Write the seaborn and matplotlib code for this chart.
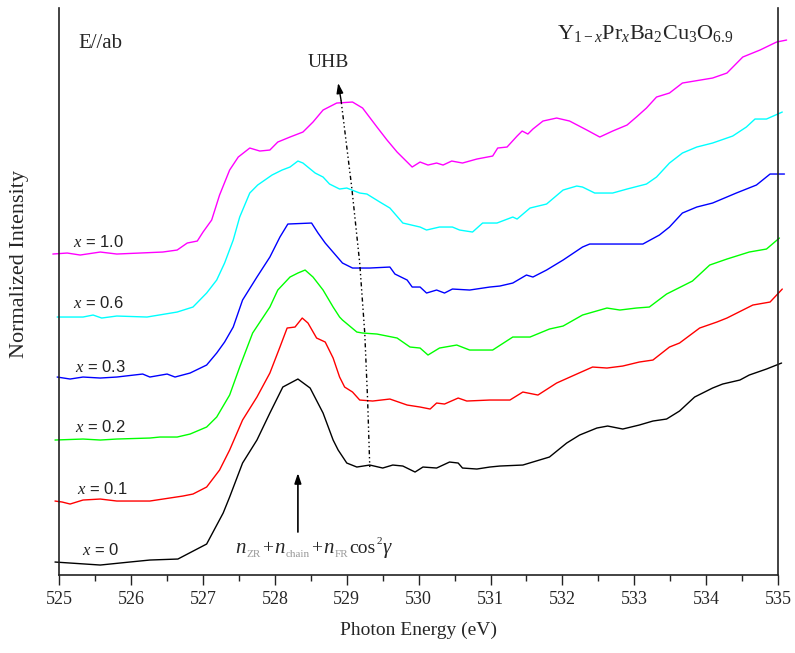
import numpy as np
import pandas as pd
import matplotlib
matplotlib.use("Agg")
import matplotlib.pyplot as plt
import matplotlib.transforms as mtransforms
import seaborn as sns

# O K-edge XAS spectra (E//ab), vertically offset, Y1-xPrxBa2Cu3O6.9
e_x0 = [524.94, 525.57, 525.98, 526.26, 526.65, 527.05, 527.28, 527.37, 527.55, 527.75, 527.93,
        528.11, 528.32, 528.49, 528.67, 528.81, 528.88, 529.00, 529.14, 529.32, 529.50, 529.64,
        529.78, 529.95, 530.06, 530.25, 530.43, 530.55, 530.61, 530.81, 530.99, 531.13, 531.45,
        531.82, 532.06, 532.24, 532.48, 532.63, 532.84, 533.07, 533.26, 533.45, 533.63, 533.84,
        534.09, 534.23, 534.47, 534.60, 534.84, 535.05]
i_x0 = [0.13, 0.10, 0.13, 0.15, 0.16, 0.31, 0.62, 0.78, 1.12, 1.35, 1.62,
        1.88, 1.96, 1.87, 1.62, 1.35, 1.25, 1.12, 1.08, 1.10, 1.07, 1.10,
        1.09, 1.03, 1.08, 1.07, 1.13, 1.12, 1.07, 1.06, 1.08, 1.09, 1.10,
        1.18, 1.32, 1.40, 1.47, 1.49, 1.46, 1.50, 1.54, 1.56, 1.64, 1.78,
        1.87, 1.91, 1.95, 2.00, 2.06, 2.12]

e_x01 = [524.94, 525.04, 525.15, 525.33, 525.57, 525.80, 526.26, 526.72, 526.86, 527.05, 527.23,
         527.37, 527.55, 527.75, 527.93, 528.07, 528.17, 528.28, 528.38, 528.46, 528.58, 528.70,
         528.81, 528.90, 528.97, 529.08, 529.18, 529.36, 529.60, 529.84, 530.02, 530.16, 530.25,
         530.36, 530.55, 530.67, 530.99, 531.27, 531.45, 531.66, 531.92, 532.20, 532.42, 532.62,
         532.84, 533.07, 533.26, 533.49, 533.63, 533.91, 534.15, 534.29, 534.65, 534.89, 535.06]
i_x01 = [0.74, 0.73, 0.71, 0.75, 0.76, 0.74, 0.74, 0.79, 0.81, 0.88, 1.05,
         1.25, 1.55, 1.78, 2.02, 2.28, 2.47, 2.48, 2.57, 2.52, 2.37, 2.33,
         2.17, 1.98, 1.88, 1.83, 1.75, 1.74, 1.76, 1.70, 1.68, 1.66, 1.72,
         1.71, 1.77, 1.74, 1.75, 1.75, 1.83, 1.80, 1.92, 2.01, 2.08, 2.07,
         2.09, 2.13, 2.15, 2.28, 2.32, 2.47, 2.53, 2.57, 2.70, 2.73, 2.86]

e_x02 = [524.94, 525.33, 525.57, 525.80, 526.26, 526.40, 526.64, 526.82, 527.05, 527.19, 527.37,
         527.51, 527.69, 527.93, 528.04, 528.21, 528.32, 528.42, 528.53, 528.67, 528.81, 528.90,
         528.94, 529.14, 529.22, 529.42, 529.70, 529.88, 530.02, 530.13, 530.29, 530.53, 530.71,
         531.03, 531.31, 531.55, 531.82, 532.01, 532.28, 532.62, 532.80, 533.03, 533.21, 533.45,
         533.81, 534.05, 534.29, 534.60, 534.84, 535.02]
i_x02 = [1.35, 1.36, 1.35, 1.36, 1.37, 1.38, 1.38, 1.41, 1.48, 1.58, 1.80,
         2.08, 2.42, 2.68, 2.85, 2.98, 3.02, 3.05, 2.98, 2.85, 2.68, 2.58,
         2.55, 2.43, 2.42, 2.41, 2.37, 2.28, 2.27, 2.20, 2.27, 2.30, 2.25,
         2.25, 2.38, 2.38, 2.46, 2.49, 2.60, 2.67, 2.65, 2.67, 2.68, 2.81,
         2.94, 3.10, 3.16, 3.23, 3.26, 3.37]

e_x03 = [524.97, 525.15, 525.33, 525.57, 525.80, 526.16, 526.26, 526.50, 526.61, 526.82, 527.05,
         527.19, 527.30, 527.42, 527.55, 527.75, 527.93, 528.07, 528.18, 528.51, 528.60, 528.70,
         528.76, 528.94, 529.08, 529.32, 529.60, 529.67, 529.84, 529.91, 530.02, 530.11, 530.25,
         530.36, 530.47, 530.71, 530.99, 531.13, 531.31, 531.50, 531.59, 531.78, 532.01, 532.28,
         532.38, 533.12, 533.35, 533.49, 533.67, 533.87, 534.09, 534.42, 534.70, 534.89, 535.09]
i_x03 = [1.98, 1.96, 1.98, 1.97, 1.98, 2.01, 1.98, 2.01, 1.98, 2.02, 2.10,
         2.22, 2.33, 2.48, 2.75, 2.98, 3.18, 3.38, 3.51, 3.52, 3.42, 3.32,
         3.27, 3.12, 3.07, 3.07, 3.08, 3.01, 2.95, 2.88, 2.88, 2.82, 2.85,
         2.82, 2.86, 2.85, 2.88, 2.89, 2.92, 3.00, 2.98, 3.05, 3.15, 3.28,
         3.31, 3.31, 3.40, 3.48, 3.62, 3.68, 3.72, 3.82, 3.90, 4.01, 4.01]

e_x06 = [524.97, 525.33, 525.47, 525.59, 525.80, 526.22, 526.64, 526.86, 527.05, 527.19, 527.30,
         527.42, 527.51, 527.65, 527.76, 527.96, 528.10, 528.21, 528.32, 528.39, 528.56, 528.67,
         528.76, 528.90, 529.00, 529.18, 529.28, 529.46, 529.60, 529.78, 530.02, 530.11, 530.29,
         530.47, 530.57, 530.75, 530.89, 531.09, 531.31, 531.37, 531.55, 531.78, 532.01, 532.20,
         532.28, 532.45, 532.70, 532.90, 533.17, 533.31, 533.49, 533.67, 533.87, 534.09, 534.37,
         534.56, 534.68, 534.84, 535.06]
i_x06 = [2.58, 2.58, 2.60, 2.57, 2.59, 2.58, 2.63, 2.68, 2.82, 2.95, 3.12,
         3.35, 3.58, 3.82, 3.90, 4.00, 4.05, 4.08, 4.14, 4.12, 4.02, 3.98,
         3.91, 3.86, 3.87, 3.82, 3.81, 3.73, 3.67, 3.52, 3.48, 3.45, 3.48,
         3.48, 3.45, 3.43, 3.52, 3.52, 3.58, 3.56, 3.67, 3.71, 3.85, 3.89,
         3.88, 3.82, 3.82, 3.86, 3.91, 3.98, 4.12, 4.22, 4.28, 4.32, 4.39,
         4.48, 4.56, 4.56, 4.63]

e_x10 = [524.91, 525.11, 525.29, 525.57, 525.80, 526.12, 526.44, 526.64, 526.78, 526.92, 527.00,
         527.12, 527.23, 527.37, 527.49, 527.65, 527.79, 527.93, 528.04, 528.21, 528.39, 528.53,
         528.67, 528.86, 529.08, 529.22, 529.42, 529.56, 529.70, 529.91, 530.02, 530.13, 530.25,
         530.34, 530.46, 530.61, 530.81, 531.03, 531.10, 531.23, 531.37, 531.44, 531.52, 531.59,
         531.73, 531.92, 532.10, 532.34, 532.52, 532.70, 532.90, 533.03, 533.17, 533.31, 533.49,
         533.67, 534.09, 534.29, 534.51, 534.75, 534.98, 535.12]
i_x10 = [3.21, 3.22, 3.20, 3.23, 3.21, 3.22, 3.23, 3.25, 3.32, 3.34, 3.43,
         3.55, 3.80, 4.05, 4.18, 4.27, 4.24, 4.25, 4.33, 4.38, 4.43, 4.53,
         4.65, 4.72, 4.73, 4.67, 4.48, 4.35, 4.23, 4.08, 4.13, 4.10, 4.12,
         4.10, 4.14, 4.12, 4.16, 4.19, 4.27, 4.28, 4.39, 4.44, 4.41, 4.46,
         4.54, 4.57, 4.54, 4.45, 4.38, 4.44, 4.50, 4.58, 4.67, 4.78, 4.82,
         4.92, 4.97, 5.02, 5.18, 5.25, 5.33, 5.35]

series_names = ["x = 0", "x = 0.1", "x = 0.2", "x = 0.3", "x = 0.6", "x = 1.0"]
series_colors = ["#000000", "#ff0000", "#00ff00", "#0000ff", "#00ffff", "#ff00ff"]
energies = [e_x0, e_x01, e_x02, e_x03, e_x06, e_x10]
intensities = [i_x0, i_x01, i_x02, i_x03, i_x06, i_x10]

# label anchor (energy, intensity) for each spectrum
label_pos = [(525.32, 0.25), (525.25, 0.86), (525.22, 1.48), (525.22, 2.08), (525.19, 2.72), (525.19, 3.33)]

# UHB peak trace across the series
uhb_e = [528.92, 529.07, 529.18, 529.25, 529.29, 529.32]
uhb_i = [4.75, 3.87, 3.12, 2.42, 1.75, 1.08]

frames = []
for name, e, i in zip(series_names, energies, intensities):
    frames.append(pd.DataFrame({"energy": e, "intensity": i, "sample": name}))
df = pd.concat(frames, ignore_index=True)

sns.set_style("white")
plt.rcParams["font.family"] = ["Liberation Serif", "DejaVu Serif"]
plt.rcParams["mathtext.fontset"] = "custom"
plt.rcParams["mathtext.rm"] = "Liberation Serif"
plt.rcParams["mathtext.it"] = "Liberation Serif:italic"
plt.rcParams["mathtext.bf"] = "Liberation Serif:bold"

fig = plt.figure(figsize=(7.95, 6.53), dpi=100)
ax = fig.add_axes([0.0746, 0.1194, 0.904, 0.8683])

sns.lineplot(data=df, x="energy", y="intensity", hue="sample", hue_order=series_names,
             palette=series_colors, sort=False, estimator=None, linewidth=1.0,
             legend=False, ax=ax)
for ln in ax.lines:
    ln.set_clip_on(False)

ax.set_xlim(525, 535)
ax.set_ylim(0, 5.67)
ax.set_xticks(np.arange(525, 536, 1))
ax.set_xticks(np.arange(525.5, 535, 1), minor=True)
ax.set_yticks([])
ax.tick_params(axis="x", which="major", direction="out", length=7.5, width=1.0,
               color="#222222", labelsize=13, pad=4, bottom=True)
ax.tick_params(axis="x", which="minor", direction="out", length=4.5, width=1.0,
               color="#222222", bottom=True)
for side in ["left", "right", "bottom"]:
    ax.spines[side].set_visible(True)
    ax.spines[side].set_color("#222222")
    ax.spines[side].set_linewidth(1.2)
ax.spines["top"].set_visible(False)

ax.set_xlabel("Photon Energy (eV)", fontsize=14, labelpad=10)
ax.set_ylabel("")
fig.text(0.025, 0.596, "Normalized Intensity", rotation=90, ha="center", va="center",
         fontsize=16)

for (lx, ly), name in zip(label_pos, series_names):
    ax.text(lx, ly, "$x$" + name[1:], fontsize=12, family=["Liberation Sans"],
            ha="left", va="center", color="#222222")

ax.text(525.26, 5.32, "E//ab", fontsize=15, ha="left", va="center")
ax.text(531.92, 5.42,
        r"Y$_{\mathrm{1-}x}$Pr$_{x}$Ba$_{\mathrm{2}}$Cu$_{\mathrm{3}}$O$_{\mathrm{6.9}}$",
        fontsize=16, ha="left", va="center")
ax.text(528.75, 5.13, "UHB", fontsize=14, ha="center", va="center")

# dash-dot-dot trace of the UHB peak, with arrowhead at top
ax.plot(uhb_e, uhb_i, color="black", linewidth=1.0, linestyle=(0, (3, 2, 1, 2, 1, 2)))
ax.annotate("", xy=(528.88, 4.92), xytext=(528.92, 4.75),
            arrowprops=dict(arrowstyle="-|>,head_length=0.6,head_width=0.2",
                            color="black", lw=1.0, shrinkA=0, shrinkB=0))

# arrow marking the main pre-edge peak
ax.annotate("", xy=(528.32, 1.02), xytext=(528.32, 0.43),
            arrowprops=dict(arrowstyle="-|>,head_length=0.6,head_width=0.2",
                            color="black", lw=1.2, shrinkA=0, shrinkB=0))

# formula: n_ZR + n_chain + n_FR cos^2 gamma, with grey subscripts
fig.canvas.draw()
renderer = fig.canvas.get_renderer()
pieces = [
    ("n", dict(fontsize=15, style="italic"), 0),
    ("ZR", dict(fontsize=8, color="#9a9a9a"), -4),
    ("+", dict(fontsize=14), 0),
    ("n", dict(fontsize=15, style="italic"), 0),
    ("chain", dict(fontsize=8, color="#9a9a9a"), -4),
    ("+", dict(fontsize=14), 0),
    ("n", dict(fontsize=15, style="italic"), 0),
    ("FR", dict(fontsize=8, color="#9a9a9a"), -4),
    ("cos", dict(fontsize=14), 0),
    ("2", dict(fontsize=8), 9),
    ("\u03b3", dict(fontsize=15, style="italic"), 0),
]
x_adv = 0.0
for s, kw, dy in pieces:
    tr = mtransforms.offset_copy(ax.transData, fig=fig, x=x_adv, y=dy, units="dots")
    t = ax.text(527.45, 0.22, s, transform=tr, ha="left", va="baseline", **kw)
    ext = t.get_window_extent(renderer)
    x_adv += ext.width + 1.0

fig.savefig("out.png", dpi=100)
